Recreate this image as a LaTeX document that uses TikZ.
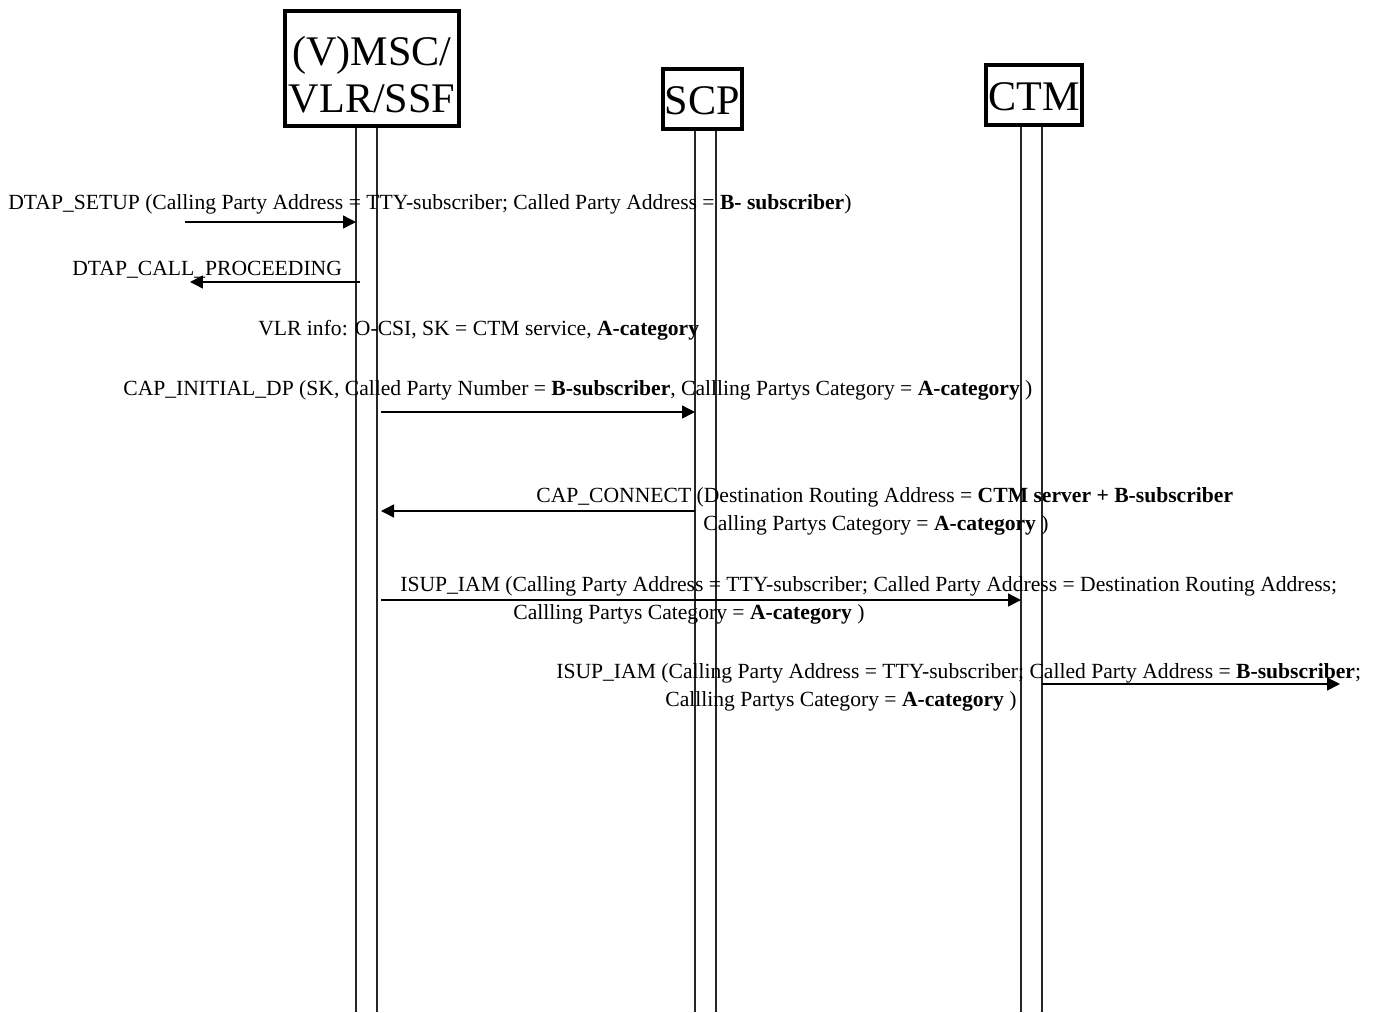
\documentclass[tikz,border=0pt]{standalone}
\usepackage{fontspec}
\setmainfont{Liberation Serif}
\usetikzlibrary{arrows.meta}
\tikzset{
  entity/.style={draw,line width=2.2pt,inner sep=0pt},
  hdr/.style={font=\fontsize{24}{27}\selectfont,align=center,inner sep=0pt},
  msg/.style={font=\fontsize{12.3}{14}\selectfont,anchor=base west,inner sep=0pt},
  life/.style={line width=0.6pt,black!85},
  sig/.style={line width=0.8pt,-{Triangle[length=0.26cm,width=0.26cm]}}
}
\begin{document}
\begin{tikzpicture}[x=0.02cm,y=-0.02cm]
\useasboundingbox(0,0)rectangle(1380,1012);
\node[entity,minimum width=3.48cm,minimum height=2.3cm,label={[hdr,yshift=-0.12cm]center:{(V)MSC/\\VLR/SSF}}](msc)at(372,68.5){};
\node[entity,minimum width=1.58cm,minimum height=1.2cm,label={[hdr,yshift=-0.03cm]center:SCP}](scp)at(702.5,99){};
\node[entity,minimum width=1.92cm,minimum height=1.2cm,label={[hdr,yshift=-0.03cm]center:CTM}](ctm)at(1034,95){};
\coordinate(mscL)at(356,1012);\coordinate(mscR)at(377,1012);
\coordinate(scpL)at(695,1012);\coordinate(scpR)at(716,1012);
\coordinate(ctmL)at(1021,1012);\coordinate(ctmR)at(1042,1012);
\draw[life](msc.south-|mscL)--(mscL);\draw[life](msc.south-|mscR)--(mscR);
\draw[life](scp.south-|scpL)--(scpL);\draw[life](scp.south-|scpR)--(scpR);
\draw[life](ctm.south-|ctmL)--(ctmL);\draw[life](ctm.south-|ctmR)--(ctmR);
\node[msg](setup)at(8,209){DTAP\_SETUP (Calling Party Address = TTY-subscriber; Called Party Address = \textbf{B- subscriber})};
\coordinate(setupS)at(185,222);
\draw[sig](setupS)--(setupS-|mscL);
\node[msg](proc)at(72,275){DTAP\_CALL\_PROCEEDING};
\coordinate(procE)at(190,282);
\draw[sig](procE-|360,0)--(procE);
\node[msg](vlr)at(258,335){VLR info: O-CSI, SK = CTM service, \textbf{A-category}};
\node[msg](idp)at(123,395){CAP\_INITIAL\_DP (SK, Called Party Number = \textbf{B-subscriber}, Callling Partys Category = \textbf{A-category} )};
\coordinate(idpS)at(381,412);
\draw[sig](idpS)--(idpS-|scpL);
\node[msg](conn1)at(536,502){CAP\_CONNECT (Destination Routing Address = \textbf{CTM server + B-subscriber}};
\node[msg](conn2)at(703,530){Calling Partys Category = \textbf{A-category} )};
\coordinate(connE)at(381,511);
\draw[sig](connE-|scpL)--(connE);
\node[msg](iam1a)at(400,591){ISUP\_IAM (Calling Party Address = TTY-subscriber; Called Party Address = Destination Routing Address;};
\node[msg](iam1b)at(513,619){Callling Partys Category = \textbf{A-category} )};
\coordinate(iam1S)at(381,600);
\draw[sig](iam1S)--(iam1S-|ctmL);
\node[msg](iam2a)at(556,678){ISUP\_IAM (Calling Party Address = TTY-subscriber; Called Party Address = \textbf{B-subscriber};};
\node[msg](iam2b)at(665,706){Callling Partys Category = \textbf{A-category} )};
\coordinate(iam2E)at(1340,684);
\draw[sig](iam2E-|ctmR)--(iam2E);
\end{tikzpicture}
\end{document}
